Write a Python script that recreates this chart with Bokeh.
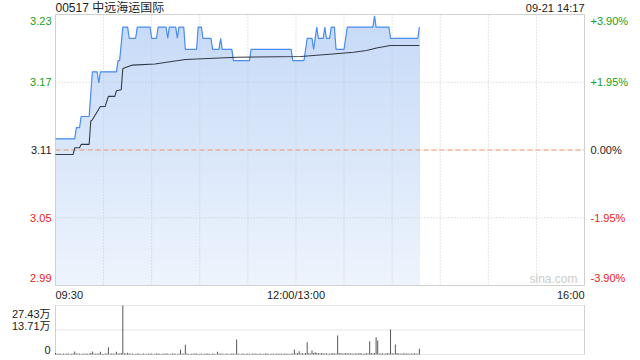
import numpy as np
from bokeh.plotting import figure
from bokeh.models import Label, Range1d
from bokeh.embed import file_html
from bokeh.resources import INLINE

# ---------------- data ----------------
stock_code = "00517"
stock_name = "中远海运国际"
stamp = "09-21 14:17"
prev_close = 3.11
limit_pct = 3.90

price_times = ["09:30", "09:42", "09:43", "09:45", "09:46", "09:51", "09:53", "09:56", "09:57", "09:58",
               "10:08", "10:09", "10:10", "10:12", "10:15", "10:16", "10:20", "10:21", "10:29", "10:30",
               "10:33", "10:34", "10:39", "10:40", "10:41", "10:45", "10:46", "10:47", "10:50", "10:51",
               "10:58", "10:59", "11:01", "11:02", "11:07", "11:08", "11:12", "11:13", "11:14", "11:20",
               "11:21", "11:31", "11:32", "11:57", "11:58", "13:00", "13:05", "13:07", "13:10", "13:11",
               "13:13", "13:14", "13:17", "13:18", "13:19", "13:21", "13:22", "13:24", "13:25", "13:30",
               "13:31", "13:32", "13:48", "13:49", "13:50", "13:58", "13:59", "14:16", "14:17"]
price_values = [3.12, 3.12, 3.13, 3.13, 3.14, 3.14, 3.18, 3.18, 3.17, 3.18,
                3.18, 3.19, 3.19, 3.22, 3.22, 3.21, 3.21, 3.22, 3.22, 3.21,
                3.21, 3.22, 3.22, 3.21, 3.22, 3.22, 3.21, 3.22, 3.22, 3.20,
                3.20, 3.22, 3.22, 3.21, 3.21, 3.20, 3.20, 3.21, 3.20, 3.20,
                3.19, 3.19, 3.20, 3.20, 3.19, 3.19, 3.19, 3.21, 3.21, 3.20,
                3.22, 3.21, 3.21, 3.22, 3.21, 3.21, 3.22, 3.22, 3.20, 3.20,
                3.21, 3.22, 3.22, 3.23, 3.22, 3.22, 3.21, 3.21, 3.22]

avg_times = ["09:30", "09:41", "09:42", "09:45", "09:46", "09:51", "09:52", "09:53", "09:58", "10:01",
             "10:03", "10:07", "10:08", "10:11", "10:12", "10:18", "10:32", "10:51", "11:23", "13:03",
             "13:23", "13:36", "13:44", "13:51", "13:59", "14:17"]
avg_values = [3.106, 3.106, 3.112, 3.112, 3.115, 3.115, 3.136, 3.137, 3.149, 3.149,
              3.158, 3.158, 3.163, 3.164, 3.183, 3.186, 3.187, 3.191, 3.193, 3.1937,
              3.196, 3.1975, 3.199, 3.2015, 3.2035, 3.2035]

# volume per minute from 09:30 (unit: 万)
vol_values = [0.9, 0.5, 0.4, 0.6, 0.3, 0.5, 0.4, 0.6, 0.5, 0.3, 0.4, 0.5, 1.7, 0.6, 0.4, 0.5, 0.3, 0.6, 0.4, 0.5,
              0.4, 0.6, 0.8, 1.7, 0.5, 0.4, 0.6, 0.5, 1.5, 0.4, 0.3, 0.6, 0.5, 4.1, 0.4, 0.5, 0.6, 0.4, 1.5, 0.5,
              0.6, 0.9, 27.43, 0.7, 0.5, 1.0, 0.6, 0.4, 0.5, 0.3, 0.4, 0.5, 0.6, 0.3, 0.4, 0.5, 0.3, 0.4, 0.6, 0.4,
              0.5, 0.3, 0.4, 0.6, 0.5, 0.4, 0.3, 0.5, 0.4, 0.6, 0.5, 0.3, 0.4, 0.5, 0.6, 0.4, 0.3, 0.5, 2.6, 0.4,
              0.5, 5.4, 0.6, 0.4, 0.3, 0.5, 0.4, 0.6, 0.5, 0.3, 0.4, 0.5, 0.3, 0.4, 0.6, 0.5, 0.4, 0.3, 0.5, 0.4,
              0.3, 1.5, 0.5, 0.4, 0.6, 0.3, 0.4, 0.5, 0.3, 0.4, 0.5, 0.6, 0.4, 8.4, 0.5, 0.3, 0.4, 0.5, 0.3, 0.4,
              0.5, 0.4, 0.3, 0.5, 0.4, 0.6, 0.3, 0.4, 0.5, 0.3, 0.4, 0.5, 0.6, 0.4, 0.3, 0.5, 0.4, 0.3, 0.5, 0.4,
              0.6, 0.4, 0.3, 0.5, 0.4, 0.5, 0.3, 0.6, 0.5, 2.8, 0.5, 0.9, 1.8, 0.6, 0.7, 0.5, 0.8, 6.9, 0.9, 0.6,
              2.2, 0.8, 1.3, 0.9, 0.7, 0.5, 0.8, 0.6, 0.5, 0.7, 0.4, 0.6, 0.5, 0.8, 0.6, 0.5, 10.6, 0.9, 0.7, 0.6,
              0.5, 0.8, 0.6, 0.7, 0.5, 0.6, 0.4, 0.7, 0.5, 0.6, 0.8, 0.5, 0.4, 0.6, 0.7, 0.5, 7.4, 0.8, 0.6, 0.9,
              9.7, 7.8, 0.6, 0.5, 0.7, 0.4, 0.6, 0.8, 0.5, 14.0, 0.7, 0.6, 5.6, 0.8, 0.5, 0.6, 0.4, 0.7, 0.5, 0.6,
              0.5, 0.4, 0.6, 0.5, 0.7, 0.4, 0.5, 3.2]
vol_max = 27.43

left_ticks = ["3.23", "3.17", "3.11", "3.05", "2.99"]
right_ticks = ["+3.90%", "+1.95%", "0.00%", "-1.95%", "-3.90%"]
tick_colors = ["#1a9e1a", "#1a9e1a", "#222222", "#f02020", "#f02020"]
time_labels = ["09:30", "12:00/13:00", "16:00"]
vol_labels = ["27.43万", "13.71万", "0"]

# ---------------- helpers ----------------
def to_min(t):
    h, m = map(int, t.split(":"))
    tot = h * 60 + m
    if tot <= 12 * 60:
        return tot - (9 * 60 + 30)
    return 150 + tot - 13 * 60

SESSION = 330
W, H = 640, 360
FL, FR = 55, 584          # panel left / right (px)
PT, PB = 14, 285          # price panel top / bottom (px)
VT, VB = 305, 354         # volume panel top / bottom (px)
FONT = "Liberation Sans"
CJK = "Liberation Sans, Noto Sans CJK SC"
GRID = "#c8c8c8"
BORDER = "#d0d0d0"

px = np.array([to_min(t) for t in price_times], dtype=float)
py = np.array(price_values)
ax_ = np.array([to_min(t) for t in avg_times], dtype=float)
ay = np.array(avg_values)

ytop = prev_close * (1 + limit_pct / 100)
ybot = prev_close * (1 - limit_pct / 100)
levels = np.linspace(ytop, ybot, 5)

# ranges: the canvas is one frame; panels are placed by range extents
sx = SESSION / (FR - FL)
x_range = Range1d(-FL * sx, SESSION + (W - FR) * sx)
sy = (ytop - ybot) / (PB - PT)
y_range = Range1d(ybot - (H - PB) * sy, ytop + PT * sy)
sv = vol_max / (VB - VT)
vol_range = Range1d(-(H - VB) * sv, vol_max + VT * sv)

p = figure(width=W, height=H, x_range=x_range, y_range=y_range,
           output_backend="svg", toolbar_location=None,
           x_axis_location=None, y_axis_location=None,
           min_border=0, min_border_left=0, min_border_right=0,
           min_border_top=0, min_border_bottom=0)
p.extra_y_ranges = {"vol": vol_range}
p.grid.visible = False
p.outline_line_color = None
p.background_fill_color = "white"
p.border_fill_color = "white"

# gradient area (layered bands, top colour first)
c_top = np.array([198, 218, 248])
c_bot = np.array([238, 244, 253])
nb = 40
his = np.linspace(ytop, ybot, nb + 1)[:-1]
for i, hi in enumerate(his):
    f = i / (nb - 1)
    c = (c_top * (1 - f) + c_bot * f).astype(int)
    p.varea(x=px, y1=np.full_like(py, ybot), y2=np.minimum(py, hi),
            fill_color="#%02x%02x%02x" % tuple(c), fill_alpha=1.0)

# price grid
vm = np.arange(30, SESSION, 30, dtype=float)
p.segment(x0=vm, y0=np.full_like(vm, ybot), x1=vm, y1=np.full_like(vm, ytop),
          line_color=GRID, line_dash="1 2", line_width=1)
mid = levels[1:-1]
p.segment(x0=np.zeros_like(mid), y0=mid, x1=np.full_like(mid, SESSION), y1=mid,
          line_color=GRID, line_dash="1 2", line_width=1)
p.segment(x0=[0], y0=[prev_close], x1=[SESSION], y1=[prev_close],
          line_color="#ee9a70", line_dash="5 3", line_width=1)
# price frame
p.rect(x=[SESSION / 2], y=[(ytop + ybot) / 2], width=[SESSION], height=[ytop - ybot],
       fill_color=None, line_color=BORDER, line_width=1)

p.line(px, py, line_color="#4a8cf0", line_width=1.2)
p.line(ax_, ay, line_color="#333a46", line_width=1.1)

# y labels
offs = [-6, 0, 0, 0, 7.5]
for lv, lt, rt, col, off in zip(levels, left_ticks, right_ticks, tick_colors, offs):
    p.add_layout(Label(x=0, y=lv, x_offset=-4, y_offset=off, text=lt, text_align="right",
                       text_baseline="middle", text_font=FONT, text_font_size="11px", text_color=col))
    p.add_layout(Label(x=SESSION, y=lv, x_offset=6, y_offset=off, text=rt, text_align="left",
                       text_baseline="middle", text_font=FONT, text_font_size="11px", text_color=col))

# time labels
for xm, t, al in zip([0, 150, SESSION], time_labels, ["left", "center", "right"]):
    p.add_layout(Label(x=xm, y=ybot, y_offset=-9, text=t, text_align=al, text_baseline="middle",
                       text_font=FONT, text_font_size="11px", text_color="#222222"))

# title & stamp
p.add_layout(Label(x=0, y=ytop, y_offset=7, text=f"{stock_code} {stock_name}", text_align="left",
                   text_baseline="middle", text_font=CJK, text_font_size="12px", text_color="#222222"))
p.add_layout(Label(x=SESSION, y=ytop, y_offset=7, text=stamp, text_align="right",
                   text_baseline="middle", text_font=FONT, text_font_size="11px", text_color="#222222"))
p.add_layout(Label(x=SESSION, y=ybot, x_offset=-7, y_offset=7, text="sina.com", text_align="right",
                   text_baseline="middle", text_font=FONT, text_font_size="12px", text_color="#cccccc"))

# ---------------- volume panel ----------------
hl = np.array([0, vol_max / 2, vol_max])
p.segment(x0=np.zeros(3), y0=hl, x1=np.full(3, SESSION), y1=hl, y_range_name="vol",
          line_color=GRID, line_dash="1 1", line_width=1)
p.segment(x0=[0, SESSION], y0=[0, 0], x1=[0, SESSION], y1=[vol_max, vol_max], y_range_name="vol",
          line_color=BORDER, line_width=1)
vx = np.arange(len(vol_values), dtype=float)
p.vbar(x=vx, top=np.array(vol_values), bottom=0, width=0.62, y_range_name="vol",
       fill_color="#555555", line_color=None)

for lv, t, off in zip(hl[::-1], vol_labels, [-8, 4, 5]):
    p.add_layout(Label(x=0, y=lv, y_range_name="vol", x_offset=-5, y_offset=off, text=t,
                       text_align="right", text_baseline="middle", text_font=CJK,
                       text_font_size="11px", text_color="#222222"))

open("out.html", "w").write(file_html(p, INLINE))
